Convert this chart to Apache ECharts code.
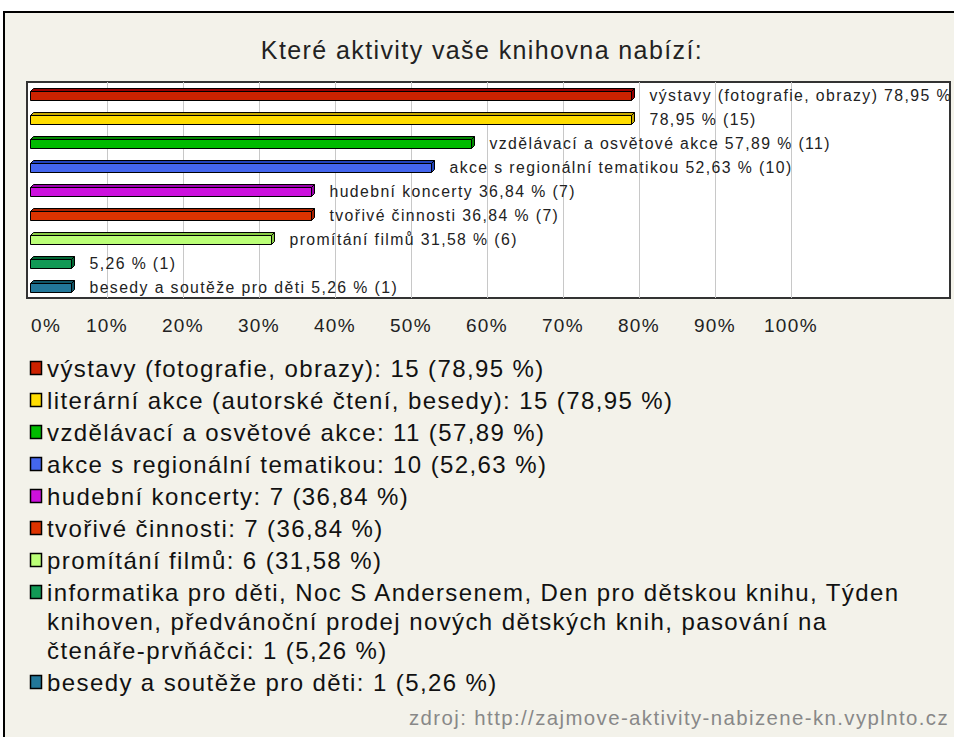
<!DOCTYPE html>
<html><head><meta charset="utf-8">
<script src="https://cdn.jsdelivr.net/npm/echarts@6/dist/echarts.min.js"></script>
<style>
html,body{margin:0;padding:0;background:#fff;}
#main{width:954px;height:737px;}
#main text{letter-spacing:1.4px;}
</style></head><body><div id="main"></div>
<script>
// ---- data ----
const titleText = 'Které aktivity vaše knihovna nabízí:';
const categories = [
  'výstavy (fotografie, obrazy)',
  'literární akce (autorské čtení, besedy)',
  'vzdělávací a osvětové akce',
  'akce s regionální tematikou',
  'hudební koncerty',
  'tvořivé činnosti',
  'promítání filmů',
  'informatika pro děti, Noc S Andersenem, Den pro dětskou knihu, Týden knihoven, předvánoční prodej nových dětských knih, pasování na čtenáře-prvňáčci',
  'besedy a soutěže pro děti'
];
const counts = [15, 15, 11, 10, 7, 7, 6, 1, 1];
const percents = [78.95, 78.95, 57.89, 52.63, 36.84, 36.84, 31.58, 5.26, 5.26];
const barLabelNames = [
  'výstavy (fotografie, obrazy)', '', 'vzdělávací a osvětové akce',
  'akce s regionální tematikou', 'hudební koncerty', 'tvořivé činnosti',
  'promítání filmů', '', 'besedy a soutěže pro děti'
];
const axisMin = 0, axisMax = 100, axisStep = 10;
const sourceText = 'zdroj: http://zajmove-aktivity-nabizene-kn.vyplnto.cz';

// ---- styles ----
const frontColors = ['#cc2200', '#ffdd00', '#00bb00', '#4466ee', '#cc11dd', '#dd3300', '#bbff77', '#119955', '#227799'];
const topColors   = ['#990000', '#c8aa00', '#008800', '#2244bb', '#9900aa', '#aa2200', '#88cc44', '#006633', '#115566'];
const FONT = '"Liberation Sans", Arial, sans-serif';
const LS = 1.4;

function fmt(v) { return v.toFixed(2).replace('.', ','); }
function barLabel(i) {
  const s = fmt(percents[i]) + ' % (' + counts[i] + ')';
  return barLabelNames[i] ? barLabelNames[i] + ' ' + s : s;
}

const chart = echarts.init(document.getElementById('main'), null, {renderer: 'svg'});

// legend text wrapping
const LEG_FS = 24;
const mc = document.createElement('canvas').getContext('2d');
mc.font = LEG_FS + 'px "Liberation Sans"';
function tw(s) { return mc.measureText(s).width + LS * s.length; }
function wrap(s, maxW) {
  const words = s.split(' ');
  const lines = [];
  let cur = '';
  words.forEach(w => {
    const t = cur ? cur + ' ' + w : w;
    if (cur && tw(t) > maxW) { lines.push(cur); cur = w; } else cur = t;
  });
  if (cur) lines.push(cur);
  return lines;
}

const graphics = [];
graphics.push({type: 'rect', z: -20, shape: {x: 4, y: 12, width: 960, height: 740}, style: {fill: '#f3f2ea', stroke: '#000', lineWidth: 2}});
graphics.push({type: 'rect', z: -10, shape: {x: 27, y: 82, width: 923, height: 216}, style: {fill: '#fff', stroke: '#333', lineWidth: 2}});
graphics.push({type: 'text', z: 5, style: {text: titleText, x: 482, y: 50, align: 'center', verticalAlign: 'middle', fontSize: 25, fontFamily: FONT, fill: '#222'}});
let ly = 368;
categories.forEach((name, i) => {
  const full = name + ': ' + counts[i] + ' (' + fmt(percents[i]) + ' %)';
  const lines = wrap(full, 880);
  graphics.push({type: 'rect', z: 5, shape: {x: 30.5, y: ly - 6.5, width: 11, height: 13}, style: {fill: frontColors[i], stroke: '#000', lineWidth: 1.5}});
  lines.forEach((ln, k) => {
    graphics.push({type: 'text', z: 5, style: {text: ln, x: 47, y: ly + k * 29, align: 'left', verticalAlign: 'middle', fontSize: LEG_FS, fontFamily: FONT, fill: '#111'}});
  });
  ly += 32 + (lines.length - 1) * 29;
});
graphics.push({type: 'text', z: 5, style: {text: sourceText, x: 949, y: 718, align: 'right', verticalAlign: 'middle', fontSize: 20.4, fontFamily: FONT, fill: '#888'}});

function renderBar(params, api) {
  const i = api.value(1);
  const v = api.value(0);
  const p0 = api.coord([0, i]);
  const p1 = api.coord([v, i]);
  const x0 = Math.round(p0[0]) - 0.5, x1 = Math.round(p1[0]) + 0.5, c = Math.round(p0[1]);
  const d = 3;
  const yTop = c - 2.5, yBot = c + 6.5;
  return {type: 'group', children: [
    {type: 'polygon', shape: {points: [[x0, yTop], [x0 + d, yTop - d], [x1 + d, yTop - d], [x1, yTop]]}, style: {fill: topColors[i], stroke: '#000', lineWidth: 1}},
    {type: 'polygon', shape: {points: [[x1, yTop], [x1 + d, yTop - d], [x1 + d, yBot - d], [x1, yBot]]}, style: {fill: topColors[i], stroke: '#000', lineWidth: 1}},
    {type: 'rect', shape: {x: x0, y: yTop, width: x1 - x0, height: yBot - yTop}, style: {fill: frontColors[i], stroke: '#000', lineWidth: 1}},
    {type: 'text', style: {text: barLabel(i), x: x1 + 18, y: c + 1, fill: '#222', fontSize: 15.8, fontFamily: FONT, align: 'left', verticalAlign: 'middle'}}
  ]};
}

chart.setOption({
  backgroundColor: '#fff',
  animation: false,
  graphic: {elements: graphics},
  grid: {left: 31, width: 760, top: 82, height: 216, containLabel: false},
  xAxis: {
    type: 'value', min: axisMin, max: axisMax, interval: axisStep,
    axisLine: {show: false}, axisTick: {show: false},
    splitLine: {show: true, showMinLine: false, lineStyle: {color: '#c8c8c8', width: 1}},
    axisLabel: {formatter: '{value}%', fontSize: 19, fontFamily: FONT, color: '#222', margin: 18, alignMinLabel: 'left'}
  },
  yAxis: {type: 'category', data: categories, inverse: true, show: false},
  series: [{
    type: 'custom', clip: false, z: 3,
    encode: {x: 0, y: 1},
    renderItem: renderBar,
    data: percents.map((v, i) => [v, i])
  }]
});
</script></body></html>
